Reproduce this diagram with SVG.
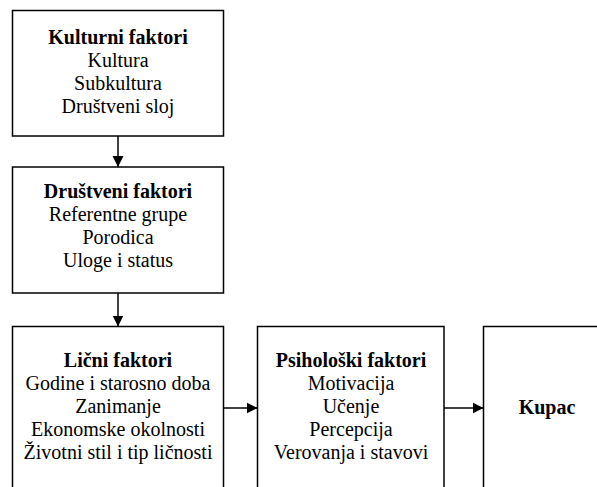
<svg xmlns="http://www.w3.org/2000/svg" width="597" height="487" viewBox="0 0 597 487">
  <style>
    .box { fill: #ffffff; stroke: #000000; stroke-width: 1.5; }
    .lbl { font-family: "Liberation Serif", "Times New Roman", serif; font-size: 20px; fill: #000000; text-anchor: middle; }
    .ttl { font-weight: bold; }
    .conn { stroke: #000000; stroke-width: 1.5; fill: none; marker-end: url(#arrow); }
  </style>
  <defs>
    <marker id="arrow" markerWidth="12" markerHeight="12" refX="11" refY="6" orient="auto" markerUnits="userSpaceOnUse">
      <path d="M0,0.5 L11,6 L0,11.5 Z" fill="#000000"/>
    </marker>
  </defs>
  <rect width="597" height="487" fill="#ffffff"/>

  <g id="connectors">
    <line class="conn" x1="118" y1="136" x2="118" y2="167"/>
    <line class="conn" x1="118" y1="293" x2="118" y2="326.5"/>
    <line class="conn" x1="223.5" y1="408" x2="257.5" y2="408"/>
    <line class="conn" x1="444" y1="408" x2="483.5" y2="408"/>
  </g>

  <g id="kulturni">
    <rect class="box" x="12.5" y="10.5" width="211" height="125.5"/>
    <text class="lbl ttl" x="118" y="44">Kulturni faktori</text>
    <text class="lbl" x="118" y="67">Kultura</text>
    <text class="lbl" x="118" y="90">Subkultura</text>
    <text class="lbl" x="118" y="113">Društveni sloj</text>
  </g>

  <g id="drustveni">
    <rect class="box" x="12.5" y="167" width="211" height="126"/>
    <text class="lbl ttl" x="118" y="198">Društveni faktori</text>
    <text class="lbl" x="118" y="221">Referentne grupe</text>
    <text class="lbl" x="118" y="244">Porodica</text>
    <text class="lbl" x="118" y="267">Uloge i status</text>
  </g>

  <g id="licni">
    <rect class="box" x="12.5" y="326.5" width="211" height="170"/>
    <text class="lbl ttl" x="118" y="367">Lični faktori</text>
    <text class="lbl" x="118" y="390">Godine i starosno doba</text>
    <text class="lbl" x="118" y="413">Zanimanje</text>
    <text class="lbl" x="118" y="436">Ekonomske okolnosti</text>
    <text class="lbl" x="118" y="459">Životni stil i tip ličnosti</text>
  </g>

  <g id="psiholoski">
    <rect class="box" x="257.5" y="326.5" width="186.5" height="170"/>
    <text class="lbl ttl" x="351" y="367">Psihološki faktori</text>
    <text class="lbl" x="351" y="390">Motivacija</text>
    <text class="lbl" x="351" y="413">Učenje</text>
    <text class="lbl" x="351" y="436">Percepcija</text>
    <text class="lbl" x="351" y="459">Verovanja i stavovi</text>
  </g>

  <g id="kupac">
    <rect class="box" x="483.5" y="326.5" width="130" height="170"/>
    <text class="lbl ttl" x="547" y="414">Kupac</text>
  </g>
</svg>
